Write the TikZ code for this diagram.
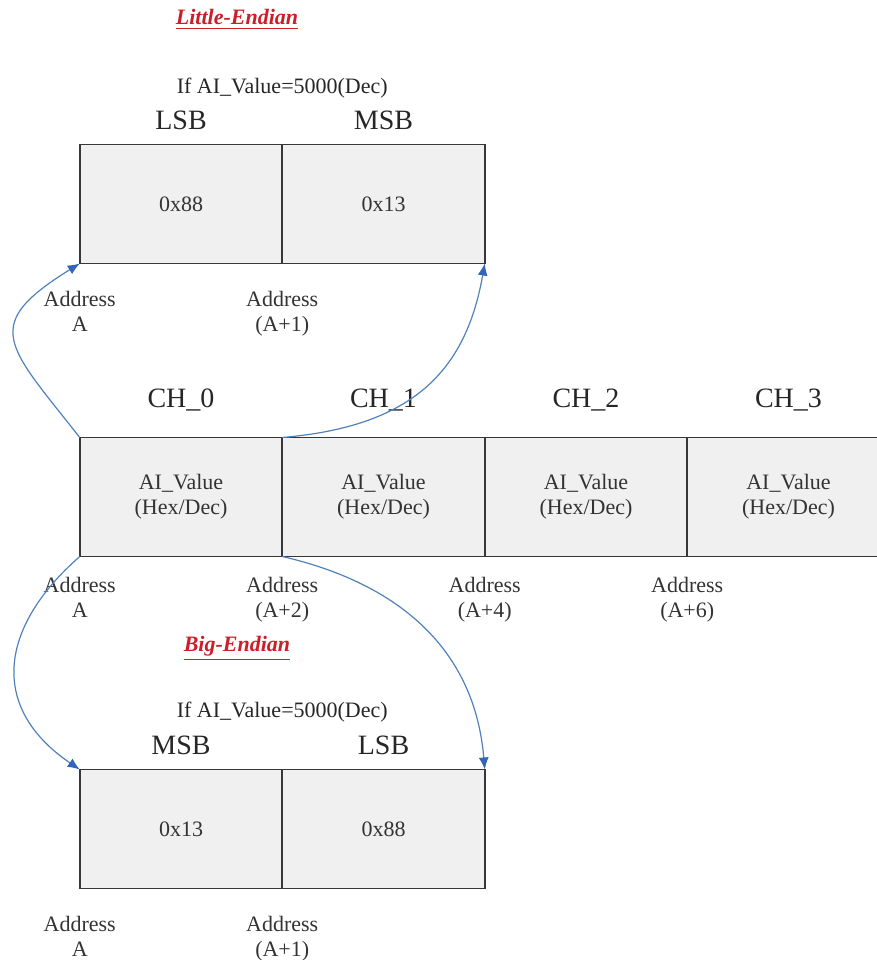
\documentclass[tikz,border=0pt]{standalone}
\usepackage{fontspec}
\setmainfont{Liberation Serif}
\usetikzlibrary{positioning,arrows.meta}

\definecolor{cellgray}{RGB}{240,240,240}
\definecolor{framegray}{RGB}{55,55,55}
\definecolor{linkblue}{RGB}{79,129,189}
\definecolor{headblue}{RGB}{50,100,185}
\definecolor{titlered}{RGB}{205,30,40}

\begin{document}
\begin{tikzpicture}[
        x=0.5pt, y=0.5pt,
        node distance=0pt,
        cell/.style={draw=framegray, fill=cellgray, line width=0.8pt, minimum width=101.25pt, minimum height=59.5pt, inner sep=0pt, outer sep=0pt, align=center, text=black!80, font=\fontsize{11}{12.5}\selectfont},
        tag/.style={inner sep=0pt, text depth=0pt, text=black!85, font=\fontsize{14}{16}\selectfont},
        note/.style={inner sep=0pt, text depth=0pt, text=black!85, font=\fontsize{11}{12.5}\selectfont},
        addr/.style={inner sep=0pt, align=center, text=black!80, font=\fontsize{11}{12.5}\selectfont},
        title/.style={inner sep=0pt, anchor=base, text=titlered, font=\fontsize{11}{12}\selectfont\bfseries\itshape},
        link/.style={draw=linkblue, line width=0.6pt, -{Latex[length=6pt,width=5pt,color=headblue]}}
    ]

    \path[use as bounding box, clip] (0,0) rectangle (877,960);

    % --- Little-Endian ---
    \node[title] (little) at (237,935) {\underline{Little-Endian}};
    \node[cell] (lsbL) at (181,756) {0x88};
    \node[cell, right=of lsbL] (msbL) {0x13};
    \node[tag, above=7.5pt of lsbL] (lsbLtag) {LSB};
    \node[tag, above=7.5pt of msbL] (msbLtag) {MSB};
    \node[note, above=25.5pt of lsbL.north east] (ifL) {If AI\_Value=5000(Dec)};
    \node[addr, below=13.5pt of lsbL.south west] (addrLa) {Address\\A};
    \node[addr, below=13.5pt of lsbL.south east] (addrLb) {Address\\(A+1)};

    % --- Channel row ---
    \node[cell] (ch0) at (181,463) {AI\_Value\\(Hex/Dec)};
    \node[cell, right=of ch0] (ch1) {AI\_Value\\(Hex/Dec)};
    \node[cell, right=of ch1] (ch2) {AI\_Value\\(Hex/Dec)};
    \node[cell, right=of ch2] (ch3) {AI\_Value\\(Hex/Dec)};
    \node[tag, above=15pt of ch0] (ch0tag) {CH\_0};
    \node[tag, above=15pt of ch1] (ch1tag) {CH\_1};
    \node[tag, above=15pt of ch2] (ch2tag) {CH\_2};
    \node[tag, above=15pt of ch3] (ch3tag) {CH\_3};
    \node[addr, below=10pt of ch0.south west] (addr0) {Address\\A};
    \node[addr, below=10pt of ch1.south west] (addr2) {Address\\(A+2)};
    \node[addr, below=10pt of ch2.south west] (addr4) {Address\\(A+4)};
    \node[addr, below=10pt of ch3.south west] (addr6) {Address\\(A+6)};

    % --- Big-Endian ---
    \node[title] (big) at (237,308) {\underline{Big-Endian}};
    \node[cell] (msbB) at (181,131) {0x13};
    \node[cell, right=of msbB] (lsbB) {0x88};
    \node[tag, above=7.5pt of msbB] (msbBtag) {MSB};
    \node[tag, above=7.5pt of lsbB] (lsbBtag) {LSB};
    \node[note, above=26pt of msbB.north east] (ifB) {If AI\_Value=5000(Dec)};
    \node[addr, below=13.5pt of msbB.south west] (addrBa) {Address\\A};
    \node[addr, below=13.5pt of msbB.south east] (addrBb) {Address\\(A+1)};

    % --- Connections ---
    \draw[link] (ch0.north west) .. controls +(-73,93) and +(-100,-62) .. (lsbL.south west);
    \draw[link] (ch1.north west) .. controls +(130,11) and +(-19,-108) .. (msbL.south east);
    \draw[link] (ch0.south west) .. controls +(-82,-72) and +(-90,61) .. (msbB.north west);
    \draw[link] (ch1.south west) .. controls +(117,-27) and +(-10,120) .. (lsbB.north east);

\end{tikzpicture}
\end{document}
